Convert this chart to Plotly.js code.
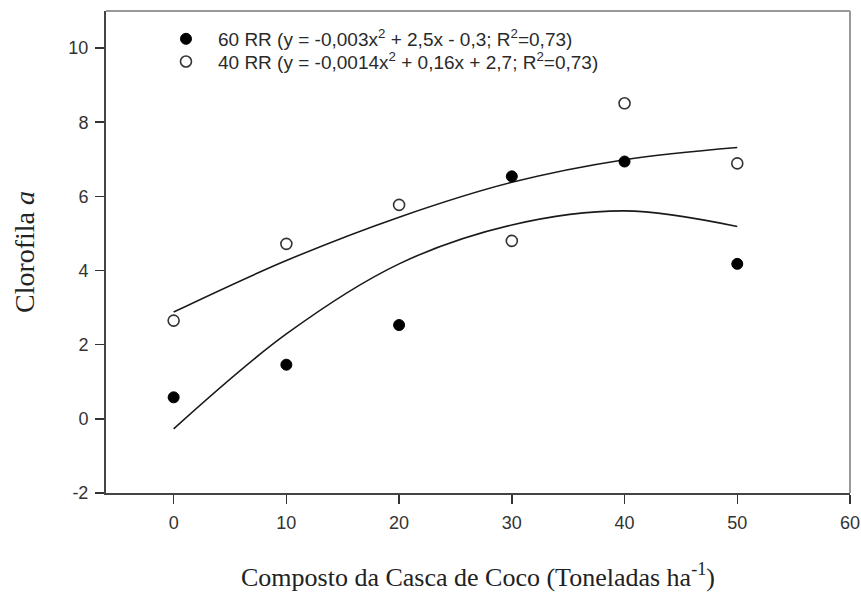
<!DOCTYPE html>
<html>
<head>
<meta charset="utf-8">
<script src="https://cdn.plot.ly/plotly-3.0.1.min.js"></script>
<style>html,body{margin:0;padding:0;background:#fff;}#chart{width:861px;height:599px;}</style>
</head>
<body>
<div id="chart"></div>
<script>
// Data
var doses = [0, 10, 20, 30, 40, 50];
var rr60 = [0.58, 1.46, 2.53, 6.54, 6.94, 4.18];
var rr40 = [2.65, 4.72, 5.77, 4.80, 8.51, 6.89];
// fitted curves as drawn in the picture (read at each dose)
var fit60 = [-0.27, 2.29, 4.18, 5.23, 5.61, 5.19];
var fit40 = [2.88, 4.27, 5.44, 6.38, 6.99, 7.32];
var xTicks = [0, 10, 20, 30, 40, 50, 60];
var yTicks = [-2, 0, 2, 4, 6, 8, 10];
var name60 = '60 RR (y = -0,003x<sup>2</sup> + 2,5x - 0,3; R<sup>2</sup>=0,73)';
var name40 = '40 RR (y = -0,0014x<sup>2</sup> + 0,16x + 2,7; R<sup>2</sup>=0,73)';

var traces = [
  {x: doses, y: fit60, mode: 'lines', line: {color: '#1a1a1a', width: 1.6, shape: 'spline'}, showlegend: false, hoverinfo: 'skip'},
  {x: doses, y: fit40, mode: 'lines', line: {color: '#1a1a1a', width: 1.6, shape: 'spline'}, showlegend: false, hoverinfo: 'skip'},
  {x: doses, y: rr60, mode: 'markers', name: name60, legend: 'legend',
   marker: {symbol: 'circle', size: 11, color: '#000', line: {color: '#000', width: 1}}},
  {x: doses, y: rr40, mode: 'markers', name: name40, legend: 'legend2',
   marker: {symbol: 'circle', size: 11, color: '#fff', line: {color: '#333', width: 1.6}}}
];

var legendFont = {family: 'Liberation Sans, Arial, sans-serif', size: 19, color: '#2a2a2a'};
var layout = {
  width: 861, height: 599,
  margin: {l: 106, r: 11, t: 11, b: 106},
  paper_bgcolor: '#fff', plot_bgcolor: '#fff',
  showlegend: true,
  legend: {x: 0.0645, y: 0.942, xanchor: 'left', yanchor: 'middle', bgcolor: 'rgba(0,0,0,0)',
           font: legendFont, itemwidth: 54},
  legend2: {x: 0.0645, y: 0.895, xanchor: 'left', yanchor: 'middle', bgcolor: 'rgba(0,0,0,0)',
           font: legendFont, itemwidth: 54},
  xaxis: {range: [-6, 60], tickvals: xTicks, ticktext: xTicks.map(String),
          ticks: 'outside', ticklen: 9, tickwidth: 1.5, tickcolor: '#333', ticklabelstandoff: 3,
          showline: true, linecolor: '#444', linewidth: 2, showgrid: false, zeroline: false,
          tickfont: {family: 'Liberation Sans, Arial, sans-serif', size: 18, color: '#333'},
          title: {text: 'Composto da Casca de Coco (Toneladas ha<sup>-1</sup>)', standoff: 36,
                  font: {family: 'Liberation Serif, Times New Roman, serif', size: 26, color: '#222'}}},
  yaxis: {range: [-2, 11], tickvals: yTicks, ticktext: yTicks.map(String),
          ticks: 'outside', ticklen: 9, tickwidth: 1.5, tickcolor: '#333', ticklabelstandoff: 3,
          showline: true, linecolor: '#444', linewidth: 2, showgrid: false, zeroline: false,
          tickfont: {family: 'Liberation Sans, Arial, sans-serif', size: 18, color: '#333'},
          title: {text: 'Clorofila <i>a</i>', standoff: 26,
                  font: {family: 'Liberation Serif, Times New Roman, serif', size: 28, color: '#222'}}},
  shapes: [
    {type: 'line', xref: 'paper', yref: 'paper', x0: 0, x1: 1, y0: 1, y1: 1, line: {color: '#999', width: 2}},
    {type: 'line', xref: 'paper', yref: 'paper', x0: 1, x1: 1, y0: 0, y1: 1, line: {color: '#999', width: 2}}
  ]
};

Plotly.newPlot('chart', traces, layout, {displayModeBar: false, staticPlot: true});
</script>
</body>
</html>
